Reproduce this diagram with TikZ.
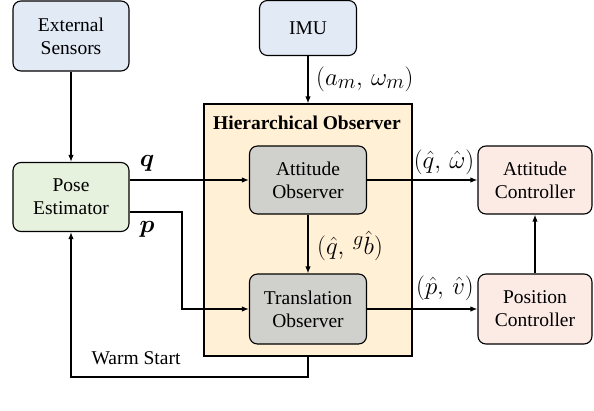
\documentclass[tikz,border=0pt]{standalone}
\usepackage{amsmath}
\usepackage{amssymb}
\usepackage{bm}
\usepackage{fontspec}
\setmainfont{Liberation Serif}
\usetikzlibrary{positioning, arrows.meta, calc}
\definecolor{sensor}{RGB}{226,234,246}
\definecolor{pose}{RGB}{231,242,222}
\definecolor{hier}{RGB}{255,240,214}
\definecolor{obs}{RGB}{208,209,204}
\definecolor{ctrl}{RGB}{252,234,228}

\begin{document}
\begin{tikzpicture}[
  x=1pt, y=-1pt,
  font=\rmfamily\fontsize{19.5}{23}\selectfont,
  block/.style={draw, rounded corners=8pt, line width=1.1pt, align=center,
                inner sep=0pt},
  link/.style={-{Latex[length=7pt,width=5.5pt]}, line width=1.5pt},
  lbl/.style={font=\rmfamily\fontsize{24.88}{28}\selectfont, inner sep=1pt},
]
\useasboundingbox (0,0) rectangle (594,410);

\node[block, fill=sensor, minimum width=116pt, minimum height=70pt] (ext)
  at (71,36) {External\\Sensors};
\node[block, fill=sensor, minimum width=97pt, minimum height=55pt] (imu)
  at (308,28) {IMU};
\node[block, fill=pose, minimum width=116pt, minimum height=69pt] (pose)
  at (71,197) {Pose\\Estimator};

% observer frame
\node[draw, fill=hier, line width=1.1pt, minimum width=208pt,
      minimum height=252pt, inner sep=0pt] (hobs) at (308,230) {};
\node[font=\rmfamily\fontsize{19.5}{23}\selectfont\bfseries] (htitle)
  at (307,123) {Hierarchical Observer};
\node[block, fill=obs, minimum width=117pt, minimum height=68pt] (att)
  at (308,180) {Attitude\\Observer};
\node[block, fill=obs, minimum width=117pt, minimum height=70pt] (trans)
  at (308,309) {Translation\\Observer};

\node[block, fill=ctrl, minimum width=114pt, minimum height=68pt] (actrl)
  at (535,180) {Attitude\\Controller};
\node[block, fill=ctrl, minimum width=114pt, minimum height=70pt] (pctrl)
  at (535,309) {Position\\Controller};

% connectors
\coordinate (pbend) at (182,212);
\coordinate (wbend) at (308,377);
\draw[link] (ext.south) -- (pose.north);
\draw[link] (imu.south) -- (hobs.north);
\draw[link] (pose.east |- att.west) -- (att.west);
\draw[link] (pose.east |- pbend) -- (pbend) |- (trans.west);
\draw[link] (att.south) -- (trans.north);
\draw[link] (att.east) -- (actrl.west);
\draw[link] (trans.east) -- (pctrl.west);
\draw[link] (pctrl.north) -- (actrl.south);
\draw[link] (hobs.south) -- (wbend) -| (pose.south);

\node[lbl] (lq) at (147,163) {$\bm{q}$};
\node[lbl] (lp) at (147,229) {$\bm{p}$};
\node[lbl, anchor=west] (limu) at (315,79) {$(a_m,\,\omega_m)$};
\node[lbl] (lqw) at (444,162) {$(\hat q,\,\hat\omega)$};
\node[lbl, anchor=west] (lqb) at (316,246) {$(\hat q,\,{}^g\hat b)$};
\node[lbl] (lpv) at (445,288) {$(\hat p,\,\hat v)$};
\node (lwarm) at (136,358) {Warm Start};
\end{tikzpicture}
\end{document}
